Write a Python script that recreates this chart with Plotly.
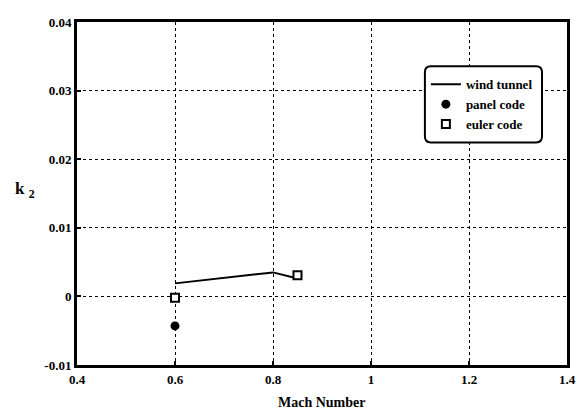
import plotly.graph_objects as go

# Data
wind_mach = [0.6, 0.8, 0.85]
wind_k2 = [0.0019, 0.0035, 0.0026]
panel_mach = [0.6]
panel_k2 = [-0.0043]
euler_mach = [0.6, 0.85]
euler_k2 = [-0.0002, 0.0031]

x_ticks = [0.4, 0.6, 0.8, 1.0, 1.2, 1.4]
x_ticktext = ["0.4", "0.6", "0.8", "1", "1.2", "1.4"]
y_ticks = [-0.01, 0, 0.01, 0.02, 0.03, 0.04]
y_ticktext = ["-0.01", "0", "0.01", "0.02", "0.03", "0.04"]

FONT = "Times New Roman, Liberation Serif, serif"

fig = go.Figure()
fig.add_trace(go.Scatter(x=wind_mach, y=wind_k2, mode="lines", name="wind tunnel",
                         line=dict(color="black", width=2)))
fig.add_trace(go.Scatter(x=panel_mach, y=panel_k2, mode="markers", name="panel code",
                         marker=dict(color="black", size=9, symbol="circle")))
fig.add_trace(go.Scatter(x=euler_mach, y=euler_k2, mode="markers", name="euler code",
                         marker=dict(color="white", size=8, symbol="square",
                                     line=dict(color="black", width=2))))

axis_common = dict(showline=True, linecolor="black", linewidth=3, mirror=True,
                   showgrid=True, gridcolor="black", griddash="dot", gridwidth=1,
                   ticks="inside", ticklen=4, tickcolor="black", tickwidth=2,
                   zeroline=False,
                   tickfont=dict(family=FONT, size=13, color="black", weight="bold"))

fig.update_xaxes(range=[0.4, 1.4], tickvals=x_ticks, ticktext=x_ticktext, **axis_common)
fig.update_yaxes(range=[-0.01, 0.04], tickvals=y_ticks, ticktext=y_ticktext, **axis_common)

fig.add_annotation(text="Mach Number", xref="paper", yref="paper", x=0.5, y=-0.11,
                   xanchor="center", yanchor="middle", showarrow=False,
                   font=dict(family=FONT, size=14, color="black", weight="bold"))
fig.add_annotation(text="k <sub>2</sub>", xref="paper", yref="paper", x=-0.082, y=0.51,
                   xanchor="right", yanchor="middle", showarrow=False,
                   font=dict(family=FONT, size=17, color="black", weight="bold"))

# rounded legend frame (paper coords)
x0, x1, y0, y1 = 0.710, 0.949, 0.649, 0.871
rx, ry = 0.012, 0.017
path = (f"M {x0+rx},{y0} L {x1-rx},{y0} Q {x1},{y0} {x1},{y0+ry} "
        f"L {x1},{y1-ry} Q {x1},{y1} {x1-rx},{y1} L {x0+rx},{y1} "
        f"Q {x0},{y1} {x0},{y1-ry} L {x0},{y0+ry} Q {x0},{y0} {x0+rx},{y0} Z")
fig.add_shape(type="path", path=path, xref="paper", yref="paper",
              fillcolor="white", line=dict(color="black", width=2), layer="above")

fig.update_layout(
    width=577, height=405,
    margin=dict(l=69, r=18, t=7, b=48),
    paper_bgcolor="white", plot_bgcolor="white",
    showlegend=True,
    font=dict(family=FONT),
    legend=dict(x=0.712, y=0.862, xanchor="left", yanchor="top",
                bgcolor="rgba(0,0,0,0)", borderwidth=0,
                font=dict(family=FONT, size=13, color="black", weight="bold"),
                itemwidth=30, tracegroupgap=4),
)

fig.write_html("out.html")
